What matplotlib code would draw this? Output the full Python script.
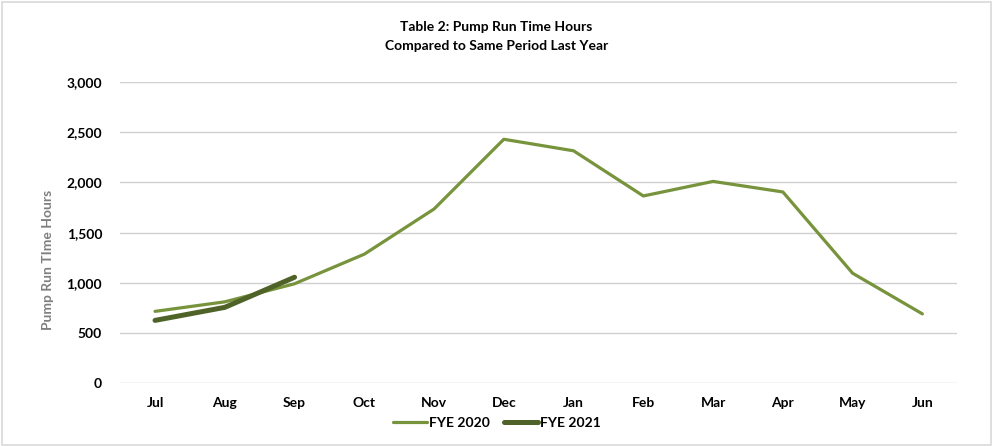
import matplotlib.pyplot as plt
from matplotlib.patches import Rectangle

# Data
months = ["Jul", "Aug", "Sep", "Oct", "Nov", "Dec", "Jan", "Feb", "Mar", "Apr", "May", "Jun"]
fye_2020 = [715, 810, 990, 1285, 1735, 2430, 2315, 1865, 2010, 1905, 1095, 690]
fye_2021 = [625, 755, 1055]

# Settings
plt.rcParams['font.family'] = ['Lato', 'DejaVu Sans']
color_2020 = "#77933C"
color_2021 = "#4F6228"

fig = plt.figure(figsize=(9.93, 4.46), dpi=100)
ax = fig.add_axes([0.121, 0.141, 0.843, 0.675])

ax.plot(range(len(fye_2020)), fye_2020, color=color_2020, linewidth=2.3,
        label="FYE 2020", solid_capstyle="round", zorder=3)
ax.plot(range(len(fye_2021)), fye_2021, color=color_2021, linewidth=3.6,
        label="FYE 2021", solid_capstyle="round", zorder=4)

ax.set_xlim(-0.5, len(months) - 0.5)
ax.set_ylim(0, 3000)
ax.set_yticks(range(0, 3001, 500))
ax.set_yticklabels([f"{v:,}" for v in range(0, 3001, 500)], fontsize=10, fontweight="bold")
ax.set_xticks(range(len(months)))
ax.set_xticklabels(months, fontsize=10, fontweight="bold")
ax.tick_params(axis="y", length=0, pad=13)
ax.tick_params(axis="x", length=0, pad=10)
ax.grid(axis="y", color="#D0D0D0", linewidth=1)
ax.set_axisbelow(True)
for s in ax.spines.values():
    s.set_visible(False)

ax.set_ylabel("Pump Run TIme Hours", fontsize=10, fontweight="bold", color="#7F7F7F")
ax.yaxis.set_label_coords(-0.079, 0.41)

fig.text(0.5, 0.93, "Table 2: Pump Run Time Hours", ha="center", fontsize=10, fontweight="bold")
fig.text(0.5, 0.888, "Compared to Same Period Last Year", ha="center", fontsize=10, fontweight="bold")

leg = fig.legend(loc="center", bbox_to_anchor=(0.5, 0.052), ncol=2, frameon=False,
                 prop={"weight": "bold", "size": 10}, handlelength=2.5,
                 handletextpad=0.1, columnspacing=1.0)

fig.add_artist(Rectangle((0.002, 0.003), 0.996, 0.992, transform=fig.transFigure,
                         fill=False, edgecolor="#D9D9D9", linewidth=1.2))

fig.savefig("out.png", dpi=100)
